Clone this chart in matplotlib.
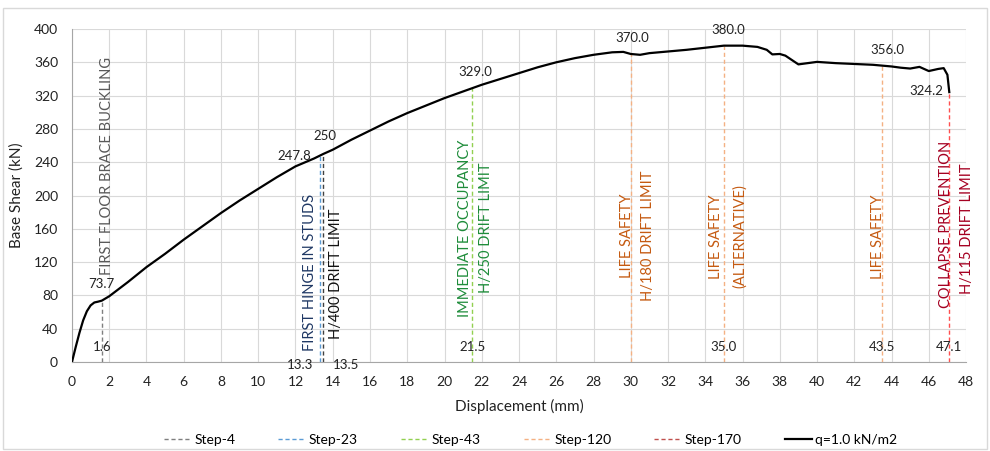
import matplotlib

matplotlib.use("Agg")
import matplotlib.pyplot as plt
from matplotlib.lines import Line2D
from matplotlib.patches import Rectangle

plt.rcParams["font.family"] = ["Lato", "DejaVu Sans"]

# pushover curve, q = 1.0 kN/m2
disp = [0.0, 0.2, 0.4, 0.6, 0.8, 1.0, 1.2, 1.4, 1.6, 2.0, 3.0, 4.0, 5.0, 6.0, 7.0, 8.0,
        9.0, 10.0, 11.0, 12.0, 13.0, 13.3, 13.5, 14.0, 15.0, 16.0, 17.0, 18.0, 19.0,
        20.0, 21.0, 21.5, 22.0, 23.0, 24.0, 25.0, 26.0, 27.0, 28.0, 29.0, 29.6, 30.0,
        30.5, 31.0, 32.0, 33.0, 34.0, 35.0, 36.0, 36.8, 37.3, 37.6, 38.0, 38.3, 38.7,
        39.0, 39.5, 40.0, 41.0, 42.0, 43.0, 43.5, 44.0, 44.5, 45.0, 45.5, 46.0, 46.5,
        46.8, 47.0, 47.1]
shear = [0.0, 18.0, 35.0, 50.0, 61.0, 68.0, 71.5, 72.5, 73.7, 79.0, 96.0, 114.0, 130.0,
         147.0, 163.0, 179.0, 194.0, 208.0, 222.0, 235.0, 244.5, 247.8, 250.0, 255.0,
         267.0, 278.0, 289.0, 299.0, 308.0, 317.0, 325.0, 329.0, 333.0, 340.0, 347.0,
         354.0, 360.0, 365.0, 369.0, 372.0, 372.5, 370.0, 369.0, 371.0, 373.0, 375.0,
         377.5, 380.0, 380.0, 378.5, 375.0, 369.5, 370.0, 368.0, 362.0, 357.5, 359.0,
         360.5, 359.0, 358.0, 357.0, 356.0, 355.0, 353.5, 352.5, 354.5, 349.5, 352.0,
         353.0, 345.0, 324.2]

# performance points: displacement, shear, line colour
step_x = [1.6, 13.3, 13.5, 21.5, 30.0, 35.0, 43.5, 47.1]
step_y = [73.7, 247.8, 250.0, 329.0, 370.0, 380.0, 356.0, 324.2]
step_colors = ["#7f7f7f", "#5b9bd5", "#404040", "#92d050", "#f4b183", "#f4b183",
               "#f4b183", "#ff4f4f"]

legend_names = ["Step-4", "Step-23", "Step-43", "Step-120", "Step-170"]
legend_colors = ["#7f7f7f", "#5b9bd5", "#92d050", "#f4b183", "#c0504d"]

# limit state captions: x, y (centre), text, colour
captions = [
    (1.9, 235, "FIRST FLOOR BRACE BUCKLING", "#595959"),
    (12.8, 108, "FIRST HINGE IN STUDS", "#1f3864"),
    (14.2, 106, "H/400 DRIFT LIMIT", "#111111"),
    (21.1, 161, "IMMEDIATE OCCUPANCY", "#1e8c3a"),
    (22.25, 161, "H/250 DRIFT LIMIT", "#1e8c3a"),
    (29.8, 152, "LIFE SAFETY", "#c55a11"),
    (30.9, 152, "H/180 DRIFT LIMIT", "#c55a11"),
    (34.6, 151, "LIFE SAFETY", "#c55a11"),
    (35.85, 151, "(ALTERNATIVE)", "#c55a11"),
    (43.3, 151, "LIFE SAFETY", "#c55a11"),
    (46.9, 165, "COLLAPSE PREVENTION", "#a50021"),
    (48.05, 160, "H/115 DRIFT LIMIT", "#a50021"),
]

fig = plt.figure(figsize=(9.9, 4.51), dpi=100)
ax = fig.add_axes([0.0727, 0.1973, 0.9031, 0.7384])
fig.patches.append(Rectangle((0.003, 0.004), 0.994, 0.978, transform=fig.transFigure,
                             fill=False, edgecolor="#d9d9d9", linewidth=1.0))

for x, y, c in zip(step_x, step_y, step_colors):
    ax.plot([x, x], [0, y], linestyle=(0, (3, 2)), color=c, linewidth=1.0, zorder=2)

ax.plot(disp, shear, color="black", linewidth=1.6, zorder=3)

# values at each point
val_style = dict(fontsize=9.5, color="#222222", zorder=4, textcoords="offset points")
ax.annotate("73.7", (1.6, 73.7), xytext=(0, 12), ha="center", va="center", **val_style)
ax.annotate("247.8", (13.3, 247.8), xytext=(-6, 0), ha="right", va="center", **val_style)
ax.annotate("250", (13.5, 250.0), xytext=(1, 13), ha="center", va="center", **val_style)
ax.annotate("329.0", (21.5, 329.0), xytext=(2, 11.5), ha="center", va="center", **val_style)
ax.annotate("370.0", (30.0, 370.0), xytext=(1, 11.5), ha="center", va="center", **val_style)
ax.annotate("380.0", (35.0, 380.0), xytext=(3, 11.5), ha="center", va="center", **val_style)
ax.annotate("356.0", (43.5, 356.0), xytext=(4, 11), ha="center", va="center", **val_style)
ax.annotate("324.2", (47.1, 324.2), xytext=(-4, 1), ha="right", va="center", **val_style)

for x, lab in [(1.6, "1.6"), (21.5, "21.5"), (35.0, "35.0"), (43.5, "43.5"), (47.1, "47.1")]:
    ax.annotate(lab, (x, 0), xytext=(0, 11), ha="center", va="center", **val_style)
ax.annotate("13.3", (13.3, 0), xytext=(-5, -2), ha="right", va="center", **val_style)
ax.annotate("13.5", (13.5, 0), xytext=(7, -2), ha="left", va="center", **val_style)

for x, y, txt, c in captions:
    ax.text(x, y, txt, color=c, rotation=90, fontsize=10.5, ha="center", va="center", zorder=4)

ax.set_xlim(0, 48)
ax.set_ylim(0, 400)
ax.set_xticks(range(0, 49, 2))
ax.set_yticks(range(0, 401, 40))
ax.grid(True, color="#d9d9d9", linewidth=0.8)
ax.set_axisbelow(True)
for side in ["top", "right"]:
    ax.spines[side].set_visible(False)
for side in ["left", "bottom"]:
    ax.spines[side].set_color("#a6a6a6")
ax.tick_params(length=0, labelsize=10, colors="#222222", pad=10)
ax.set_xlabel("Displacement (mm)", fontsize=11, color="#222222", labelpad=8)
ax.set_ylabel("Base Shear (kN)", fontsize=11, color="#222222", labelpad=7)

handles = [Line2D([], [], color=c, linestyle=(0, (3, 2)), linewidth=1.0) for c in legend_colors]
handles.append(Line2D([], [], color="black", linewidth=1.6))
ax.legend(handles, legend_names + ["q=1.0 kN/m2"], loc="center",
          bbox_to_anchor=(0.513, -0.235), ncol=6, frameon=False, fontsize=10,
          columnspacing=3.1, handlelength=1.95, handletextpad=0.25)

fig.savefig("out.png", dpi=100)
